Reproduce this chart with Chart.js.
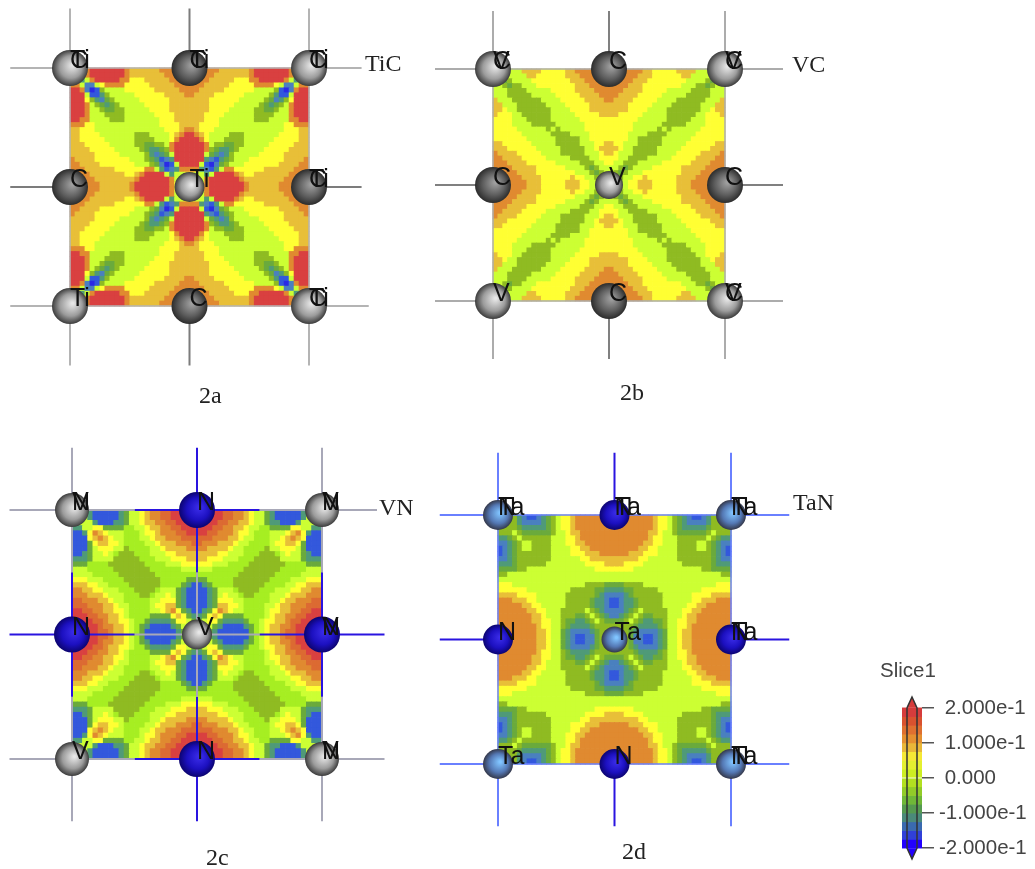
<!DOCTYPE html>
<html>
<head>
<meta charset="utf-8">
<title>TiC VC VN TaN slices</title>
<script src="https://cdn.jsdelivr.net/npm/chart.js@4"></script>
<style>
  html, body { margin: 0; background: #fff; }
  canvas { position: absolute; filter: blur(0.7px); }
  .caption { position: absolute; font: 24px/24px "Liberation Serif", serif; color: #222; filter: blur(0.4px); }
  .sliceName { position: absolute; font: 20.5px/24px "Liberation Sans", sans-serif; color: #444; filter: blur(0.4px); }
</style>
</head>
<body>
<canvas id="panelTiC" width="420" height="420" style="left:0;top:0"></canvas>
<canvas id="panelVC" width="410" height="420" style="left:420px;top:0"></canvas>
<canvas id="panelVN" width="420" height="439" style="left:0;top:430px"></canvas>
<canvas id="panelTaN" width="410" height="439" style="left:420px;top:430px"></canvas>
<canvas id="colorBar" width="133" height="175" style="left:902px;top:690px"></canvas>
<span class="caption" style="left:365px;top:51px">TiC</span>
<span class="caption" style="left:792px;top:52px">VC</span>
<span class="caption" style="left:379px;top:495px">VN</span>
<span class="caption" style="left:793px;top:490px">TaN</span>
<span class="caption" style="left:199px;top:383px">2a</span>
<span class="caption" style="left:620px;top:380px">2b</span>
<span class="caption" style="left:206px;top:845px">2c</span>
<span class="caption" style="left:622px;top:839px">2d</span>
<span class="sliceName" style="left:880px;top:658px">Slice1</span>
<script>
// Contour levels, one code per band of the slice
const levelCodes = '0123456789ABC';
const levelColors = ['#2a2ae6', '#3358dc', '#4a80bf', '#4f9a78', '#6aaa3c', '#8fbb22', '#a6ee22', '#ccff33', '#ffff33', '#e8bf38', '#e08a30', '#dc6a32', '#d94040'];

// Upper left quarter of each slice, 24 x 24 cells
const gridTiC = [
  '778ACCCCCCCA999999AAAAAA', '757ACCCCCCCA9999999AAAAA', '8737ACCCCCAA88899999AAAA', 'AA72278AAAA8888899999AAA',
  'CCA2015777788888899999AA', 'CCC71135777778888889999A', 'CCC853245777778888889999', 'CCCA75434577777888889999',
  'CCCA77544557777788889999', 'CCCA77755557777778888999', 'CCAA77775557777777888999', 'AAA887777777777777888899',
  '99888777777777777778889A', '9988887777777555777789AC', '998888877777755557778ACC', '99988888777775544557ACCC',
  '99998888877777543345ACCC', '999998888877777532347CCC', 'A99998888888777543123CCC', 'AA99998888888777542017CC',
  'AAA999999888888AA73123AA', 'AAAA9999999889ACCCC73778', 'AAAAA99999999ACCCCCCA757', 'AAAAAA999999ACCCCCCCA875'
];
const gridVC = [
  '77777799998888899AAAAAAA', '747777799888888999AAAAAA', '7745777788888888999AAAAA', '77545577788888888999AAAA',
  '777555577777888889999AAA', '7775555577777888889999AA', '97775555557777888889999A', '997775555557777888889999',
  '998775555555777788889999', '988877555555777778888899', '888877755555777777888888', '888877775555577777788888',
  '888887777775757777788888', '888888777777555577778888', '888888877777755555778888', '998888887777755555777889',
  '999888888777775555577899', 'A99998888877775555577789', 'AA9999888887777755557788', 'AAA999988888877777555778',
  'AAAA99999888888777754577', 'AAAAA9999888888887775457', 'AAAAAA999988888898877544', 'AAAAAAA99988888999887744'
];
const gridVN = [
  '777311111347789AABBCCCCC', '777311111347789AABBCCCCC', '7777311133477899AABBCCCC', '33778844446677899AABBCCC',
  '1138A987776667889AAABBCC', '11189A987766677899AAABBB', '11148998876666778999AAAB', '1114788877566667789999AA',
  '113477876555666777889999', '333477775555566677788899', '444666655555556666777888', '777666665555555666666777',
  '777766666555555566666666', '888777666655555556666644', '999887766665555556666431', 'AA9988777666555567774311',
  'AAA999877766655677874311', 'BBAAA9987766666778884311', 'BBBAAA998776666788994311', 'CCBBAA9988766667789A8431',
  'CCCBBAA99876666444489843', 'CCCCBBA99887664333348874', 'CCCCCBAA9987643111134774', 'CCCCCBBA9987641111113444'
];
const gridTaN = [
  '5555321123457889AAAAAAAA', '5555322223457889AAAAAAAA', '5555433333457889AAAAAAAA', '55575444444577899AAAAAAA',
  '33457555555777889AAAAAAA', '223457755557778899AAAAAA', '1234577555577778899AAAAA', '123455555557777888999AAA',
  '223455555557777778899999', '333455555577777777888899', '444455777777777777778888', '557777777777777777777777',
  '777777777777777777777777', '888777777777777777555544', '888888777777777555554433', '999988887777775555554322',
  'AAA999887777775555543321', 'AAAAA9988777775555543321', 'AAAAAA998877755555754322', 'AAAAAAA99877755544575432',
  'AAAAAAA99887754433457544', 'AAAAAAAA9887754333345555', 'AAAAAAAA9987743222234555', 'AAAAAAAA9987743211224555'
];

// Atoms of the cell, in lattice units
const atomX = [0, 0.5, 1, 0, 0.5, 1, 0, 0.5, 1];
const atomY = [0, 0, 0, 0.5, 0.5, 0.5, 1, 1, 1];
const kindsTiC = ['metal', 'dark', 'metal', 'dark', 'metal', 'dark', 'metal', 'dark', 'metal'];
const kindsVC = kindsTiC;
const kindsVN = ['metal', 'blue', 'metal', 'blue', 'metal', 'blue', 'metal', 'blue', 'metal'];
const kindsTaN = ['tantalum', 'blue', 'tantalum', 'blue', 'tantalum', 'blue', 'tantalum', 'blue', 'tantalum'];
// Overlaid names: the last one of each entry is printed on top
const labelsTiC = ['C|Ti', 'Ti|C', 'C|Ti', 'C', 'Ti', 'Ti|C', 'Ti', 'C', 'C|Ti'];
const labelsVC = ['C|V', 'C', 'C|V', 'C', 'V', 'C', 'V', 'C', 'C|V'];
const labelsVN = ['N|V', 'N', 'N|V', 'N', 'V', 'V|N', 'V', 'N', 'N|V'];
const labelsTaN = ['N|Ta', 'Ta|N', 'N|Ta', 'N', 'Ta', 'Ta|N', 'Ta', 'N', 'N|Ta'];

// Colour bar
const bandTops = [2, 1.75, 1.5, 1.25, 1, 0.75, 0.5, 0.25, 0, -0.25, -0.5, -0.75, -1, -1.25, -1.5, -1.75];
const bandColors = ['#d63c3c', '#d9522f', '#df7030', '#e49030', '#e8b838', '#f5e835', '#e4f030', '#ccee22', '#b2e020', '#92cc28', '#70b838', '#559a50', '#4a8a7a', '#3a6ab0', '#3040d8', '#2200ff'];
const barTicks = [2, 1, 0, -1, -2];
const barTickLabels = [' 2.000e-1', ' 1.000e-1', ' 0.000', '-1.000e-1', '-2.000e-1'];

const shades = {
  metal: ['#e6e6e6', '#9c9c9c', '#3c3c3c'],
  dark: ['#a0a0a0', '#5e5e5e', '#2c2c2c'],
  blue: ['#3a2ce8', '#1c10c0', '#0c0470'],
  tantalum: ['#80c4ff', '#5478b4', '#34384a']
};

// Cells of the whole slice, mirrored from the quarter that was read
function buildCells(grid) {
  const cells = [];
  for (let j = 0; j < 48; j++) {
    const row = grid[j < 24 ? j : 47 - j];
    if (row.length !== 24) throw new Error('bad row ' + row);
    for (let i = 0; i < 48; i++) {
      const code = row[i < 24 ? i : 47 - i];
      cells.push({ x: (i + 0.5) / 48, y: (j + 0.5) / 48, level: levelCodes.indexOf(code) });
    }
  }
  return cells;
}

function lineDataset(points, color, width) {
  return {
    type: 'scatter',
    data: points.map(p => ({ x: p[0], y: p[1] })),
    showLine: true,
    borderColor: color,
    borderWidth: width,
    pointRadius: 0,
    clip: false,
    order: 1
  };
}

// Bonds outside the square plus the ones given for the inside
function bondDatasets(p) {
  const out = [];
  [0, 0.5, 1].forEach((k, n) => {
    const color = k === 0.5 ? p.midColor : p.cornerColor;
    out.push(lineDataset([[-0.25, k], [0, k]], color, 2));
    out.push(lineDataset([[1, k], [p.rowEnds[n], k]], color, 2));
    out.push(lineDataset([[k, -0.25], [k, 0]], color, 2));
    out.push(lineDataset([[k, 1], [k, 1.25]], color, 2));
  });
  p.inner.forEach(s => {
    out.push(lineDataset([[s[0], s[1]], [s[2], s[3]]], s[4] === 'mid' ? p.midColor : p.cornerColor, s[5] || 1.5));
  });
  return out;
}

const labelPlugin = {
  id: 'atomLabels',
  afterDatasetsDraw(chart, args, opts) {
    const ctx = chart.ctx;
    ctx.save();
    ctx.font = '25px "Liberation Sans", sans-serif';
    ctx.fillStyle = '#111';
    ctx.textBaseline = 'alphabetic';
    opts.names.forEach((name, n) => {
      const px = chart.scales.x.getPixelForValue(atomX[n]);
      const py = chart.scales.y.getPixelForValue(atomY[n]);
      name.split('|').forEach(t => ctx.fillText(t, px, py));
    });
    ctx.restore();
  }
};

function drawPanel(p) {
  const canvas = document.getElementById(p.id);
  const left = canvas.offsetLeft, top = canvas.offsetTop;
  const w = p.box[1] - p.box[0], h = p.box[3] - p.box[2];
  const cellRadius = (Math.max(w, h) / 48 + 0.7) / Math.SQRT2;

  new Chart(canvas.getContext('2d'), {
    type: 'scatter',
    data: {
      datasets: [
        {
          data: atomX.map((x, n) => ({ x: x, y: atomY[n] })),
          pointRadius: p.radii,
          pointBorderWidth: 0,
          pointBackgroundColor: c => {
            if (!c.parsed) return '#888';
            const px = c.chart.scales.x.getPixelForValue(c.parsed.x);
            const py = c.chart.scales.y.getPixelForValue(c.parsed.y);
            // la escala todavia no tiene tamano antes del layout
            if (!isFinite(px) || !isFinite(py)) return '#888';
            const r = p.radii[c.dataIndex];
            const g = c.chart.ctx.createRadialGradient(px + r * 0.15, py - r * 0.15, 1, px, py, r);
            const s = shades[p.kinds[c.dataIndex]];
            g.addColorStop(0, s[0]);
            g.addColorStop(0.6, s[1]);
            g.addColorStop(1, s[2]);
            return g;
          },
          clip: false,
          order: 0
        },
        ...bondDatasets(p),
        {
          data: buildCells(p.grid),
          pointStyle: 'rect',
          pointRadius: cellRadius,
          pointBorderWidth: 0,
          pointBackgroundColor: c => (c.raw ? levelColors[c.raw.level] : '#fff'),
          clip: false,
          order: 2
        }
      ]
    },
    options: {
      responsive: false,
      animation: false,
      events: [],
      layout: { padding: 0, autoPadding: false },
      plugins: { legend: { display: false }, tooltip: { enabled: false }, atomLabels: { names: p.names } },
      scales: {
        x: { type: 'linear', display: false, min: (left - p.box[0]) / w, max: (left + canvas.width - p.box[0]) / w },
        y: { type: 'linear', display: false, reverse: true, min: (top - p.box[2]) / h, max: (top + canvas.height - p.box[2]) / h }
      }
    },
    plugins: [labelPlugin]
  });
}

const squareEdge = [[0, 0, 1, 0], [1, 0, 1, 1], [1, 1, 0, 1], [0, 1, 0, 0]];

drawPanel({
  id: 'panelTiC', box: [70, 309, 68, 306], grid: gridTiC, kinds: kindsTiC, names: labelsTiC,
  radii: [18, 18, 18, 18, 15, 18, 18, 18, 18],
  cornerColor: '#b4b4b4', midColor: '#7c7c7c', rowEnds: [1.22, 1.22, 1.25],
  inner: squareEdge.map(s => [...s, 'corner'])
});
drawPanel({
  id: 'panelVC', box: [493, 725, 69, 301], grid: gridVC, kinds: kindsVC, names: labelsVC,
  radii: [18, 18, 18, 18, 14, 18, 18, 18, 18],
  cornerColor: '#acacac', midColor: '#808080', rowEnds: [1.25, 1.25, 1.25],
  inner: squareEdge.map(s => [...s, 'corner'])
});
drawPanel({
  id: 'panelVN', box: [72, 322, 510, 759], grid: gridVN, kinds: kindsVN, names: labelsVN,
  radii: [17, 18, 17, 18, 15, 18, 17, 18, 17],
  cornerColor: '#a8a8b8', midColor: '#2a14e0', rowEnds: [1.22, 1.25, 1.25],
  inner: [
    [0, 0, 0.25, 0, 'corner', 2], [0.25, 0, 0.75, 0, 'mid', 2], [0.75, 0, 1, 0, 'corner', 2],
    [0, 1, 0.25, 1, 'corner', 2], [0.25, 1, 0.75, 1, 'mid', 2], [0.75, 1, 1, 1, 'corner', 2],
    [0, 0, 0, 0.25, 'corner', 2], [0, 0.25, 0, 0.75, 'mid', 2], [0, 0.75, 0, 1, 'corner', 2],
    [1, 0, 1, 0.25, 'corner', 2], [1, 0.25, 1, 0.75, 'mid', 2], [1, 0.75, 1, 1, 'corner', 2],
    [0, 0.5, 0.25, 0.5, 'mid', 2], [0.25, 0.5, 0.75, 0.5, 'corner', 2], [0.75, 0.5, 1, 0.5, 'mid', 2],
    [0.5, 0, 0.5, 0.25, 'mid', 2], [0.5, 0.25, 0.5, 0.75, 'corner', 2], [0.5, 0.75, 0.5, 1, 'mid', 2]
  ]
});
drawPanel({
  id: 'panelTaN', box: [498, 731, 515, 764], grid: gridTaN, kinds: kindsTaN, names: labelsTaN,
  radii: [15, 15, 15, 15, 13, 15, 15, 15, 15],
  cornerColor: '#6a80ff', midColor: '#2a14e0', rowEnds: [1.25, 1.25, 1.25],
  inner: squareEdge.map(s => [...s, 'corner'])
});

// Colour bar: floating bars for the bands and two filled tips
new Chart(document.getElementById('colorBar').getContext('2d'), {
  type: 'bar',
  data: {
    labels: ['Slice1'],
    datasets: [
      {
        type: 'scatter', xAxisID: 'tips', showLine: true, pointRadius: 0, clip: false,
        data: [{ x: 0, y: 2 }, { x: 0.5, y: 2.31 }, { x: 1, y: 2 }, { x: 1, y: -2 }, { x: 0.5, y: -2.31 }, { x: 0, y: -2 }, { x: 0, y: 2 }],
        borderColor: '#333', borderWidth: 1.5, order: 0
      },
      {
        type: 'scatter', xAxisID: 'tips', showLine: true, pointRadius: 0, clip: false, fill: 'shape',
        data: [{ x: 0, y: 2 }, { x: 0.5, y: 2.31 }, { x: 1, y: 2 }],
        backgroundColor: bandColors[0], borderWidth: 0, order: 1
      },
      {
        type: 'scatter', xAxisID: 'tips', showLine: true, pointRadius: 0, clip: false, fill: 'shape',
        data: [{ x: 0, y: -2 }, { x: 0.5, y: -2.31 }, { x: 1, y: -2 }],
        backgroundColor: bandColors[15], borderWidth: 0, order: 1
      },
      ...bandTops.map((top, n) => ({
        data: [[top - 0.25, top]],
        backgroundColor: bandColors[n],
        barPercentage: 1,
        categoryPercentage: 1,
        grouped: false,
        order: 2
      }))
    ]
  },
  options: {
    responsive: false,
    animation: false,
    events: [],
    layout: { padding: { top: 7, bottom: 6, left: 0, right: 0 }, autoPadding: false },
    plugins: { legend: { display: false }, tooltip: { enabled: false } },
    scales: {
      x: { display: false },
      tips: { type: 'linear', display: false, min: 0, max: 1 },
      y: {
        position: 'right',
        min: -2.31,
        max: 2.31,
        afterFit: s => { s.width = 113; s.paddingTop = 0; s.paddingBottom = 0; },
        afterBuildTicks: s => { s.ticks = barTicks.map(v => ({ value: v })); },
        grid: { drawOnChartArea: false, tickLength: 12, color: '#555', lineWidth: 1.5 },
        border: { display: false },
        ticks: {
          padding: 5,
          autoSkip: false,
          color: '#444',
          font: { family: '"Liberation Sans", sans-serif', size: 20.5 },
          callback: v => barTickLabels[barTicks.indexOf(v)]
        }
      }
    }
  }
});
</script>
</body>
</html>
